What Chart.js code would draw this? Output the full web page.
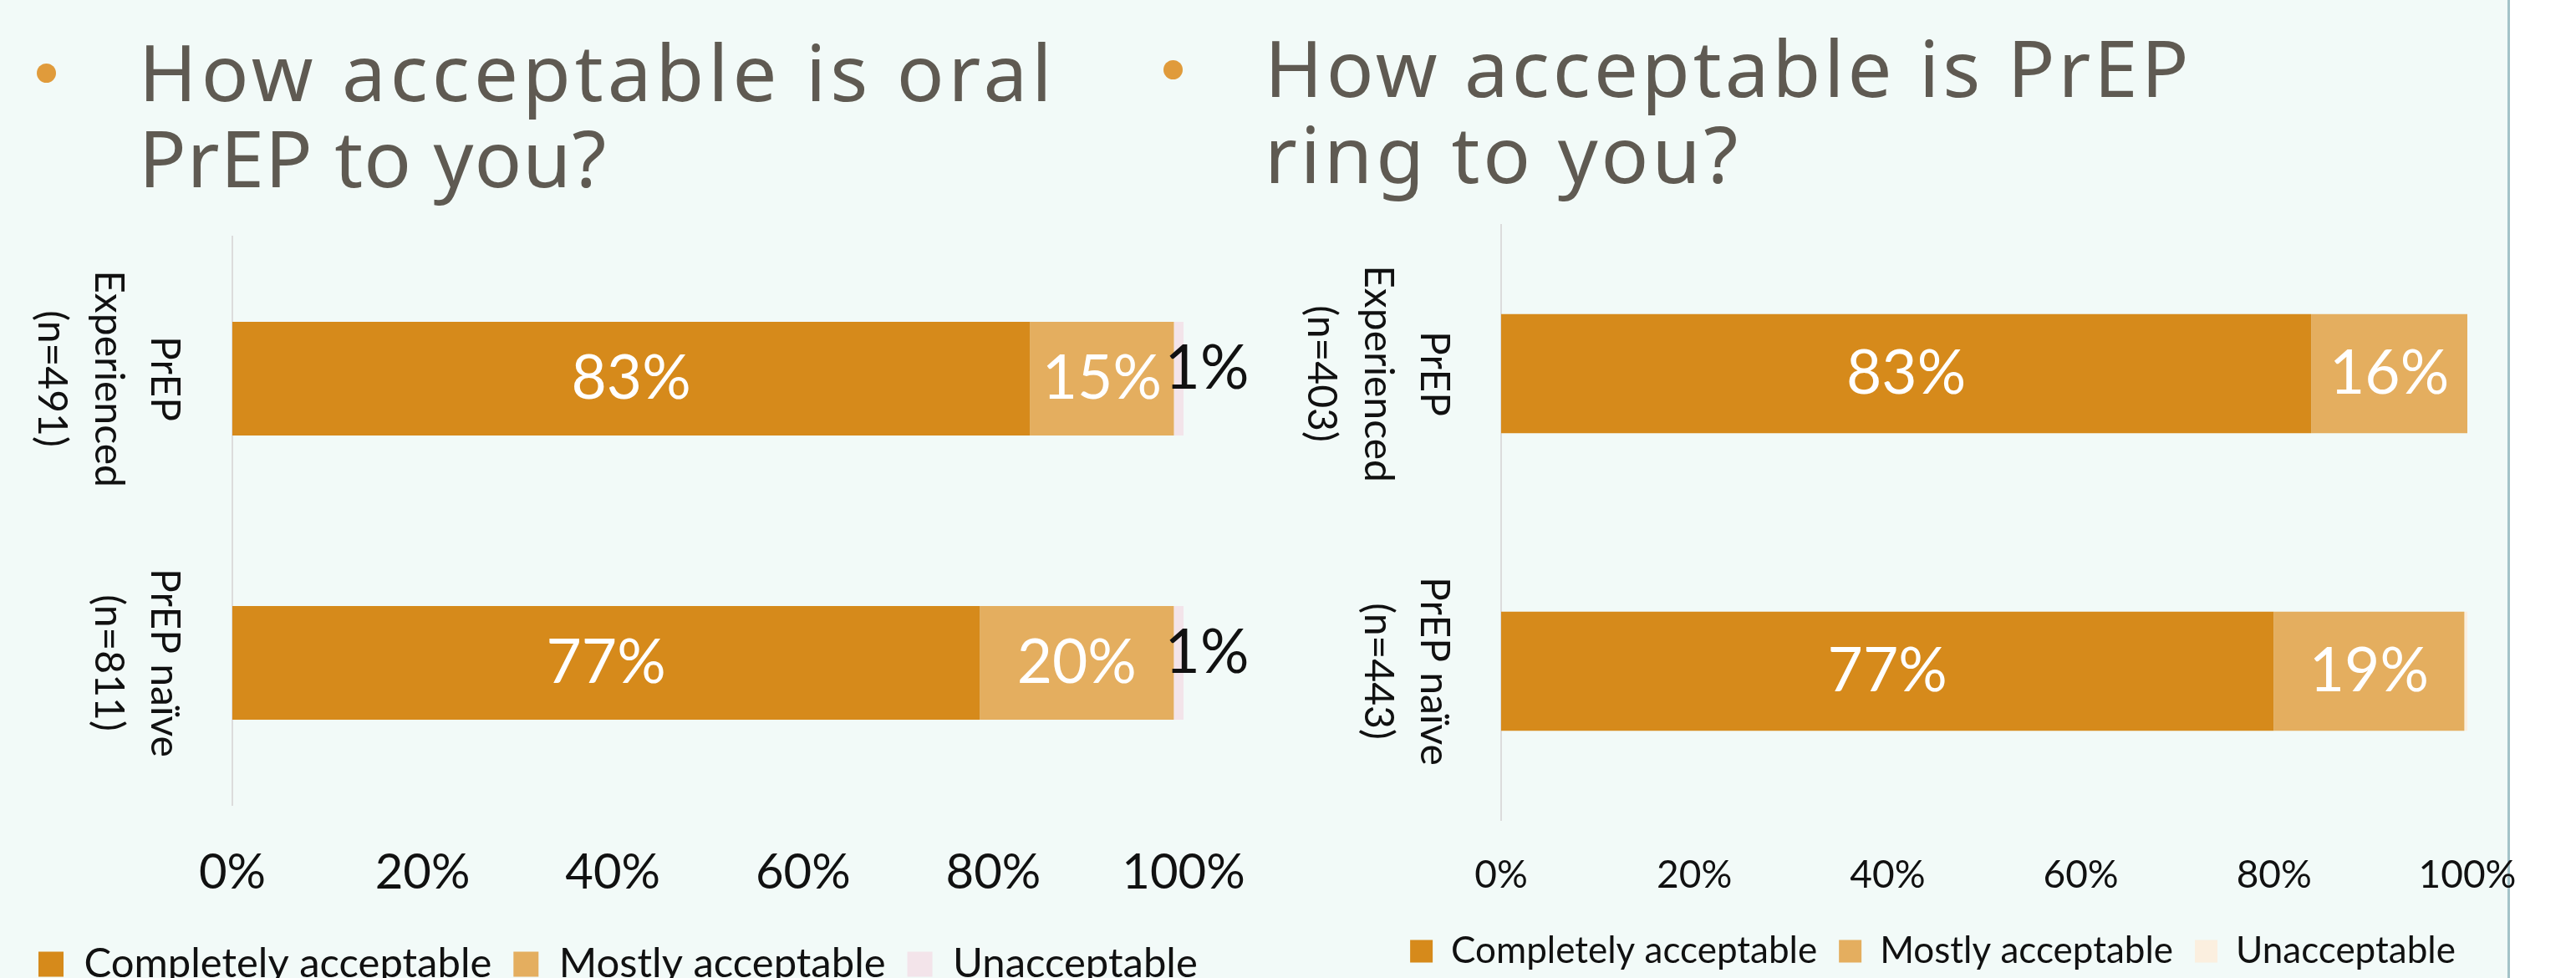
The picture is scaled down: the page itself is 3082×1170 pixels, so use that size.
<!DOCTYPE html>
<html>
<head>
<meta charset="utf-8">
<title>PrEP acceptability</title>
<script src="https://cdn.jsdelivr.net/npm/chart.js@4.4.0/dist/chart.umd.min.js"></script>
<style>
  html, body { margin: 0; padding: 0; width: 3082px; height: 1170px; overflow: hidden; background: #ffffff; }
  .slide { position: absolute; left: 0; top: 0; width: 3000px; height: 1170px; background: #f2faf8; border-right: 3px solid #a3c2c8; }
  .title { position: absolute; font-family: "Noto Sans", sans-serif; font-size: 94px; line-height: 103px; color: #5f5a52; white-space: nowrap; }
  .title span { display: block; }
  .dot { position: absolute; width: 23px; height: 23px; border-radius: 50%; background: #e09b3b; }
  canvas { position: absolute; }
</style>
</head>
<body>
<div class="slide"></div>
<div class="dot" style="left:44px; top:76px;"></div>
<div class="title" style="left:166px; top:34px;"><span style="letter-spacing:5px">How acceptable is oral</span><span style="letter-spacing:1px">PrEP to you?</span></div>
<div class="dot" style="left:1392px; top:72px;"></div>
<div class="title" style="left:1513px; top:29px;"><span style="letter-spacing:4px">How acceptable is PrEP</span><span style="letter-spacing:4px">ring to you?</span></div>

<canvas id="oral" width="1530" height="930" style="left:0px; top:270px;"></canvas>
<canvas id="ring" width="1625" height="950" style="left:1500px; top:250px;"></canvas>

<script>
// categories (third empty line keeps the rotated text lined up like the original)
const oralGroups = [['PrEP', 'Experienced', '(n=491)'], ['PrEP naïve', '(n=811)', '']];
const ringGroups = [['PrEP', 'Experienced', '(n=403)'], ['PrEP naïve', '(n=443)', '']];
const seriesNames = ['Completely acceptable', 'Mostly acceptable', 'Unacceptable'];

// percentages as printed on the bars
const oralCompletely = [83, 77];
const oralMostly = [15, 20];
const oralUnacceptable = [1, 1];

const ringCompletely = [83, 77];
const ringMostly = [16, 19];
const ringUnacceptable = [0, 0.3];

const tickLabels = ['0%', '20%', '40%', '60%', '80%', '100%'];

Chart.defaults.font.family = 'Lato, "Noto Sans", sans-serif';
Chart.defaults.color = '#111111';

const barLabels = {
  id: 'barLabels',
  afterDatasetsDraw(chart, args, opts) {
    const ctx = chart.ctx;
    ctx.save();
    ctx.font = opts.font;
    ctx.textBaseline = 'middle';
    ctx.textAlign = 'center';
    chart.data.datasets.forEach((ds, di) => {
      const meta = chart.getDatasetMeta(di);
      meta.data.forEach((bar, i) => {
        const txt = ds.printed[i] + '%';
        if (di === 2) {
          if (!opts.showOutside) return;
          ctx.fillStyle = '#111111';
          ctx.fillText(txt, bar.x + 28, bar.y - 12);
        } else {
          ctx.fillStyle = '#ffffff';
          ctx.fillText(txt, (bar.x + bar.base) / 2, bar.y);
        }
      });
    });
    ctx.restore();
  }
};

function makeChart(id, groups, completely, mostly, unacceptable, cfg) {
  // 100% stacked: each bar is scaled to its own total
  const totals = completely.map((v, i) => v + mostly[i] + unacceptable[i]);
  const share = arr => arr.map((v, i) => v / totals[i] * 100);
  const colors = ['#d68a1b', '#e4ae5f', cfg.unacceptableColor];
  const raw = [completely, mostly, unacceptable];

  return new Chart(document.getElementById(id), {
    type: 'bar',
    data: {
      labels: groups,
      datasets: raw.map((arr, k) => ({
        label: seriesNames[k],
        data: share(arr),
        printed: arr,
        backgroundColor: colors[k],
        borderWidth: 0,
        barPercentage: 0.4,
        categoryPercentage: 1
      }))
    },
    options: {
      indexAxis: 'y',
      responsive: false,
      animation: false,
      events: [],
      layout: { padding: cfg.padding },
      scales: {
        x: {
          stacked: true,
          min: 0,
          max: 100,
          grid: { display: false, drawTicks: false },
          border: { display: false },
          ticks: {
            stepSize: 20,
            autoSkip: false,
            maxRotation: 0,
            padding: cfg.tickPad,
            font: { size: cfg.tickSize },
            callback: (v, i) => tickLabels[i]
          },
          afterFit(scale) {
            // keep the legend full width but stop the bars short of the right edge
            scale.height = cfg.xHeight;
            scale.paddingLeft = 0;
            scale.paddingRight = cfg.rightGap;
          }
        },
        y: {
          stacked: true,
          grid: { display: false, drawTicks: false },
          border: { display: true, color: '#dcdcdc', width: 2 },
          ticks: {
            autoSkip: false,
            minRotation: -90,
            maxRotation: -90,
            crossAlign: 'center',
            padding: cfg.yPad,
            font: { size: 48, lineHeight: 1.4 }
          },
          afterFit(scale) {
            scale.width = cfg.yWidth;
            scale.paddingTop = 0;
            scale.paddingBottom = 0;
          }
        }
      },
      plugins: {
        tooltip: { enabled: false },
        legend: {
          position: 'bottom',
          align: cfg.legendAlign,
          labels: {
            boxWidth: cfg.box,
            boxHeight: cfg.box,
            padding: 26,
            color: '#111111',
            font: { size: cfg.legendSize }
          }
        },
        barLabels: { font: '73px Lato, "Noto Sans", sans-serif', showOutside: cfg.showOutside }
      }
    },
    plugins: [barLabels]
  });
}

makeChart('oral', oralGroups, oralCompletely, oralMostly, oralUnacceptable, {
  padding: { left: 20, top: 13, right: 0, bottom: 12 },
  rightGap: 114,
  yWidth: 258, yPad: 19,
  xHeight: 140, tickPad: 46, tickSize: 58,
  legendSize: 49, box: 30, legendAlign: 'start',
  unacceptableColor: '#f3e4ea',
  showOutside: true
});

makeChart('ring', ringGroups, ringCompletely, ringMostly, ringUnacceptable, {
  padding: { left: 0, top: 19, right: 0, bottom: 30 },
  rightGap: 173,
  yWidth: 296, yPad: 18,
  xHeight: 109, tickPad: 39, tickSize: 46,
  legendSize: 44, box: 27, legendAlign: 'center',
  unacceptableColor: '#fbefdf',
  showOutside: false
});
</script>
</body>
</html>
